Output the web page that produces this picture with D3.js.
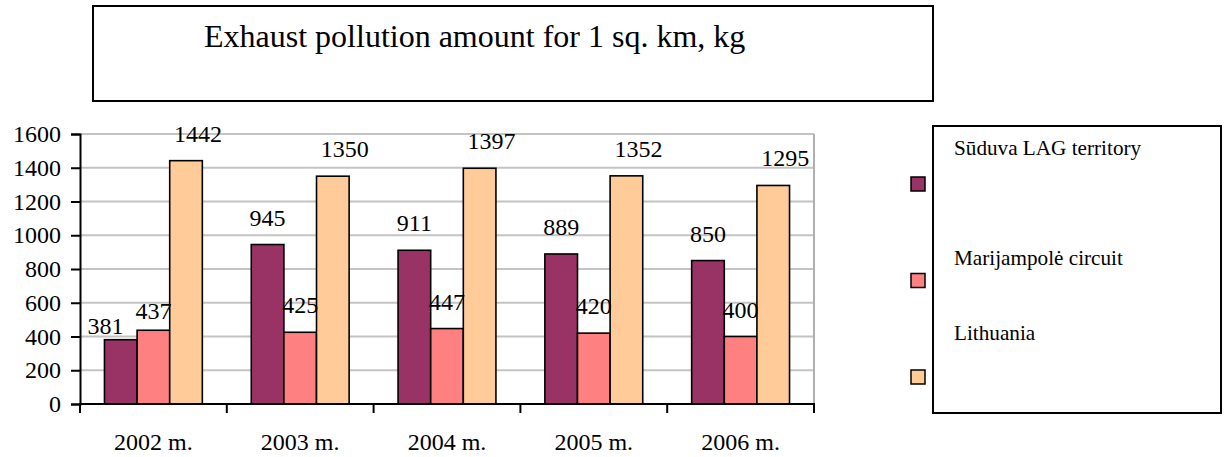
<!DOCTYPE html>
<html>
<head>
<meta charset="utf-8">
<script src="https://cdn.jsdelivr.net/npm/d3@7/dist/d3.min.js"></script>
<style>
  html, body { margin: 0; padding: 0; background: #fff; }
</style>
</head>
<body>
<svg id="chart" width="1227" height="457"></svg>
<script>
// Exhaust pollution per square kilometre, kg
const years = ["2002 m.", "2003 m.", "2004 m.", "2005 m.", "2006 m."];
const seriesNames = ["Sūduva LAG territory", "Marijampolė circuit", "Lithuania"];
const suduva = [381, 945, 911, 889, 850];
const marijampole = [437, 425, 447, 420, 400];
const lithuania = [1442, 1350, 1397, 1352, 1295];
const yTicks = [0, 200, 400, 600, 800, 1000, 1200, 1400, 1600];
const titleText = "Exhaust pollution amount for 1 sq. km, kg";

const colors = ["#993366", "#FF8080", "#FFCC99"];
const seriesValues = [suduva, marijampole, lithuania];

// pick the first serif face that is really installed
function pickFont(candidates) {
  const ctx = document.createElement("canvas").getContext("2d");
  const probe = "Exhaust pollution 1600 mmmWWiil";
  ctx.font = "40px monospace";
  const mono = ctx.measureText(probe).width;
  ctx.font = "40px sans-serif";
  const sans = ctx.measureText(probe).width;
  for (const f of candidates) {
    ctx.font = `40px "${f}", monospace`;
    const w1 = ctx.measureText(probe).width;
    ctx.font = `40px "${f}", sans-serif`;
    const w2 = ctx.measureText(probe).width;
    if (w1 !== mono || w2 !== sans) return `"${f}"`;
  }
  return "serif";
}
const FONT = pickFont(["Liberation Serif", "Tinos", "Times New Roman", "Nimbus Roman", "DejaVu Serif", "Noto Serif"]);

const svg = d3.select("#chart").attr("font-family", FONT);

// plot frame
const plot = { left: 80, right: 814, top: 134, bottom: 404 };

const x0 = d3.scaleBand().domain(years).range([plot.left, plot.right]).padding(0);
const x1 = d3.scaleBand().domain(seriesNames).range([0, x0.bandwidth()])
  .paddingInner(0).paddingOuter(0.75);
const y = d3.scaleLinear().domain([0, 1600]).range([plot.bottom, plot.top]);

// gridlines
svg.append("g").selectAll("line").data(yTicks.filter(d => d > 0)).join("line")
  .attr("x1", plot.left).attr("x2", plot.right)
  .attr("y1", d => y(d)).attr("y2", d => y(d))
  .attr("stroke", "#c4c4c4").attr("stroke-width", 2);

// plot area border (right side)
svg.append("line")
  .attr("x1", plot.right).attr("x2", plot.right)
  .attr("y1", plot.top).attr("y2", plot.bottom)
  .attr("stroke", "#b0b0b0").attr("stroke-width", 2);

// bars
const rows = years.map((yr, i) => ({
  year: yr,
  vals: seriesNames.map((s, k) => ({ series: s, k, value: seriesValues[k][i] }))
}));

const groups = svg.append("g").selectAll("g").data(rows).join("g")
  .attr("transform", d => `translate(${x0(d.year)},0)`);

groups.selectAll("rect").data(d => d.vals).join("rect")
  .attr("x", d => x1(d.series))
  .attr("y", d => y(d.value))
  .attr("width", x1.bandwidth())
  .attr("height", d => y(0) - y(d.value))
  .attr("fill", d => colors[d.k])
  .attr("stroke", "#000").attr("stroke-width", 1.6);

// y axis
const yAxis = d3.axisLeft(y).tickValues(yTicks).tickSize(9).tickPadding(10).tickFormat(d3.format("d"));
const gy = svg.append("g").attr("transform", `translate(${plot.left},0)`).call(yAxis)
  .attr("font-family", FONT).attr("font-size", 24);
gy.select(".domain").attr("stroke", "#000").attr("stroke-width", 2);
gy.selectAll(".tick line").attr("stroke", "#000").attr("stroke-width", 2);
gy.selectAll(".tick text").attr("fill", "#000");

// x axis: baseline, ticks at category boundaries, labels centred
const gx = svg.append("g");
gx.append("line").attr("x1", plot.left - 1).attr("x2", plot.right + 1)
  .attr("y1", plot.bottom).attr("y2", plot.bottom)
  .attr("stroke", "#000").attr("stroke-width", 2);
const bounds = years.map(d => x0(d)).concat([x0(years[years.length - 1]) + x0.bandwidth()]);
gx.selectAll("line.tk").data(bounds).join("line").attr("class", "tk")
  .attr("x1", d => d).attr("x2", d => d)
  .attr("y1", plot.bottom).attr("y2", plot.bottom + 9)
  .attr("stroke", "#000").attr("stroke-width", 2);
gx.selectAll("text").data(years).join("text")
  .attr("x", d => x0(d) + x0.bandwidth() / 2)
  .attr("y", 450)
  .attr("text-anchor", "middle")
  .attr("font-size", 24)
  .text(d => d);

// value labels above the bars; the Lithuania labels sit a little to the right
const labelDx = [0, 0, 12];
const labels = [];
rows.forEach(r => r.vals.forEach(v => {
  labels.push({ ...v, cx: x0(r.year) + x1(v.series) + x1.bandwidth() / 2 + labelDx[v.k], by: y(v.value) - 19 });
}));
const lab = svg.append("g").selectAll("text").data(labels).join("text")
  .attr("text-anchor", "middle")
  .attr("font-size", 24)
  .text(d => d.value);
lab.each(function (d) { d.w = this.getComputedTextLength(); });
// where a label would run into its right-hand neighbour, slide it left and down onto its bar
for (let i = 0; i < labels.length - 1; i++) {
  const a = labels[i], b = labels[i + 1];
  if (a.year !== b.year) continue;
  const aRight = a.cx + a.w / 2, bLeft = b.cx - b.w / 2;
  if (aRight > bLeft && Math.abs(a.by - b.by) < 22) {
    a.cx -= (aRight - bLeft) + 12;
    a.by = y(a.value) - 6;
    b.by = y(b.value) - 11;
  }
}
lab.attr("x", d => d.cx).attr("y", d => d.by);

// title box
svg.append("rect").attr("x", 93).attr("y", 6).attr("width", 840).attr("height", 95)
  .attr("fill", "#fff").attr("stroke", "#000").attr("stroke-width", 2);
svg.append("text").attr("x", 204).attr("y", 47).attr("font-size", 32).text(titleText);

// legend
const legend = svg.append("g");
legend.append("rect").attr("x", 933).attr("y", 126).attr("width", 288).attr("height", 287)
  .attr("fill", "#fff").attr("stroke", "#000").attr("stroke-width", 2);
const legendY = d3.scalePoint().domain(seriesNames).range([184, 377]);
const legendTextDy = [-29, -16, -37];
legend.selectAll("rect.key").data(seriesNames).join("rect").attr("class", "key")
  .attr("x", 911).attr("y", d => legendY(d) - 7)
  .attr("width", 14).attr("height", 14)
  .attr("fill", (d, i) => colors[i]).attr("stroke", "#000").attr("stroke-width", 1.5);
legend.selectAll("text").data(seriesNames).join("text")
  .attr("x", 954).attr("y", (d, i) => legendY(d) + legendTextDy[i])
  .attr("font-size", 21.2)
  .text(d => d);
</script>
</body>
</html>
